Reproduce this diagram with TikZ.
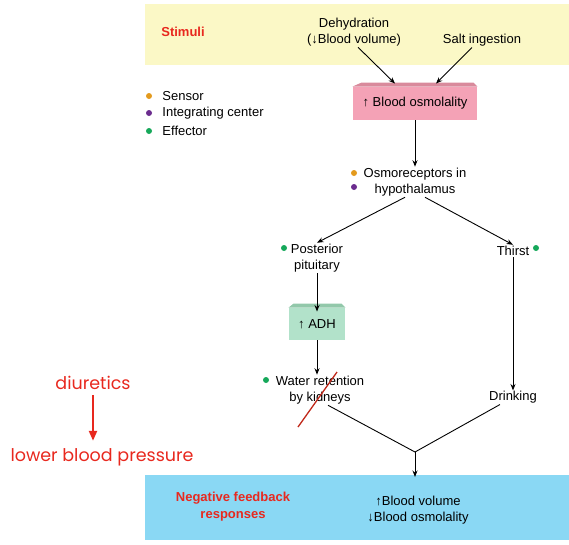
\documentclass[tikz,border=0pt]{standalone}
\usepackage{fontspec}
\setmainfont{Liberation Sans}
\newfontfamily\handfont{Poppins}
\usetikzlibrary{arrows.meta,positioning}

\definecolor{stimfill}{HTML}{FBF8C6}
\definecolor{respfill}{HTML}{8AD8F4}
\definecolor{osmfill}{HTML}{F4A2B6}
\definecolor{osmtop}{HTML}{D98A9C}
\definecolor{adhfill}{HTML}{B2E2CA}
\definecolor{adhtop}{HTML}{92C8AA}
\definecolor{sensorc}{HTML}{E39A1E}
\definecolor{integc}{HTML}{6B2C8E}
\definecolor{effectc}{HTML}{16A85A}
\definecolor{labelred}{HTML}{E8281E}
\definecolor{slashred}{HTML}{C0281A}

\tikzset{
  band/.style={inner sep=0pt, anchor=north west},
  lbl/.style={align=center, inner sep=1pt, font=\fontsize{13}{15.5}\selectfont},
  redlbl/.style={lbl, text=labelred, font=\fontsize{13}{20}\selectfont\bfseries},
  hand/.style={inner sep=1pt, text=labelred, font=\handfont\fontsize{17.5}{20}\selectfont},
  blob/.style={circle, fill=#1, inner sep=0pt, minimum size=6pt},
  boxbody/.style={inner sep=0pt, lbl}
}

\begin{document}
\begin{tikzpicture}[x=1pt,y=-1pt,>={Stealth[length=6.5pt,width=5pt]},line width=0.9pt]
  \useasboundingbox (0,0) rectangle (569,544);
  % bands
  \node[band, fill=stimfill, minimum width=424pt, minimum height=61pt] (stimband) at (145,4) {};
  \node[band, fill=respfill, minimum width=424pt, minimum height=65pt] (respband) at (145,475) {};
  \node[redlbl] (stimuli) at (183,32) {Stimuli};
  \node[redlbl, font=\fontsize{13}{17}\selectfont\bfseries] (negfb) at (233,507) {Negative feedback\\responses};

  % stimuli
  \node[lbl] (dehyd) at (354,32) {Dehydration\\(↓Blood volume)};
  \node[lbl] (salt) at (482,40) {Salt ingestion};

  % blood osmolality box
  \node[boxbody, fill=osmfill, minimum width=124pt, minimum height=33pt] (osm) at (415,103.5) {↑ Blood osmolality};
  \fill[osmtop] (osm.north west) -- ([shift={(9pt,4pt)}]osm.north west) -- ([shift={(-4pt,4pt)}]osm.north east) -- (osm.north east) -- cycle;

  % legend
  \node[blob=sensorc] (lsens) at (149,96) {};
  \node[blob=integc] (linteg) at (149,113) {};
  \node[blob=effectc] (leff) at (149,131) {};
  \node[lbl, anchor=west] at (161,96) {Sensor};
  \node[lbl, anchor=west] at (161,113) {Integrating center};
  \node[lbl, anchor=west] at (161,131) {Effector};

  % osmoreceptors
  \node[lbl] (osmrec) at (415,182) {Osmoreceptors in\\hypothalamus};
  \node[blob=sensorc] at (354,173) {};
  \node[blob=integc] at (354,187) {};

  % posterior pituitary branch
  \node[lbl] (postpit) at (317,258) {Posterior\\pituitary};
  \node[blob=effectc] at (284,248) {};
  \node[boxbody, fill=adhfill, minimum width=56pt, minimum height=32pt] (adh) at (317,324) {↑ ADH};
  \fill[adhtop] (adh.north west) -- ([shift={(5pt,4pt)}]adh.north west) -- ([shift={(-4pt,4pt)}]adh.north east) -- (adh.north east) -- cycle;
  \node[lbl] (kidney) at (320,390) {Water retention\\by kidneys};
  \node[blob=effectc] at (266,380) {};

  % thirst branch
  \node[lbl] (thirst) at (513,251) {Thirst};
  \node[blob=effectc] at (536,248) {};
  \node[lbl] (drink) at (513,397) {Drinking};

  % responses
  \node[lbl, anchor=west, font=\fontsize{13}{15.5}\selectfont] (resp) at (366,510) {↑Blood volume\\↓Blood osmolality};
  \coordinate (merge) at (415,452);

  % handwritten note
  \node[hand] (diur) at (93,383) {diuretics};
  \node[hand] (lowbp) at (102,457) {lower blood pressure};

  \path[->]
    ([xshift=4pt]dehyd.south) edge ([xshift=-20pt,yshift=3pt]osm.north)
    ([xshift=-10pt]salt.south) edge ([xshift=21pt,yshift=3pt]osm.north)
    (osm.south) edge (osmrec.north)
    ([xshift=-10pt]osmrec.south) edge (postpit.north)
    ([xshift=10pt]osmrec.south) edge (thirst.north)
    (postpit.south) edge ([yshift=-4pt]adh.north)
    (adh.south) edge (adh.south |- kidney.north)
    (thirst.south) edge ([yshift=-1pt]drink.north)
    (merge) edge ([yshift=-2pt]respband.north -| merge);
  \draw ([xshift=8pt]kidney.south) -- (merge) -- ([xshift=-13pt]drink.south);
  \draw[-{Triangle[length=10pt,width=8pt]}, labelred, line width=2.2pt] ([yshift=-4pt]diur.south) -- ([yshift=6pt]lowbp.north -| diur.south);
  % strike-through
  \draw[slashred, line width=1.3pt] (298,427) -- (337,372);
\end{tikzpicture}
\end{document}
